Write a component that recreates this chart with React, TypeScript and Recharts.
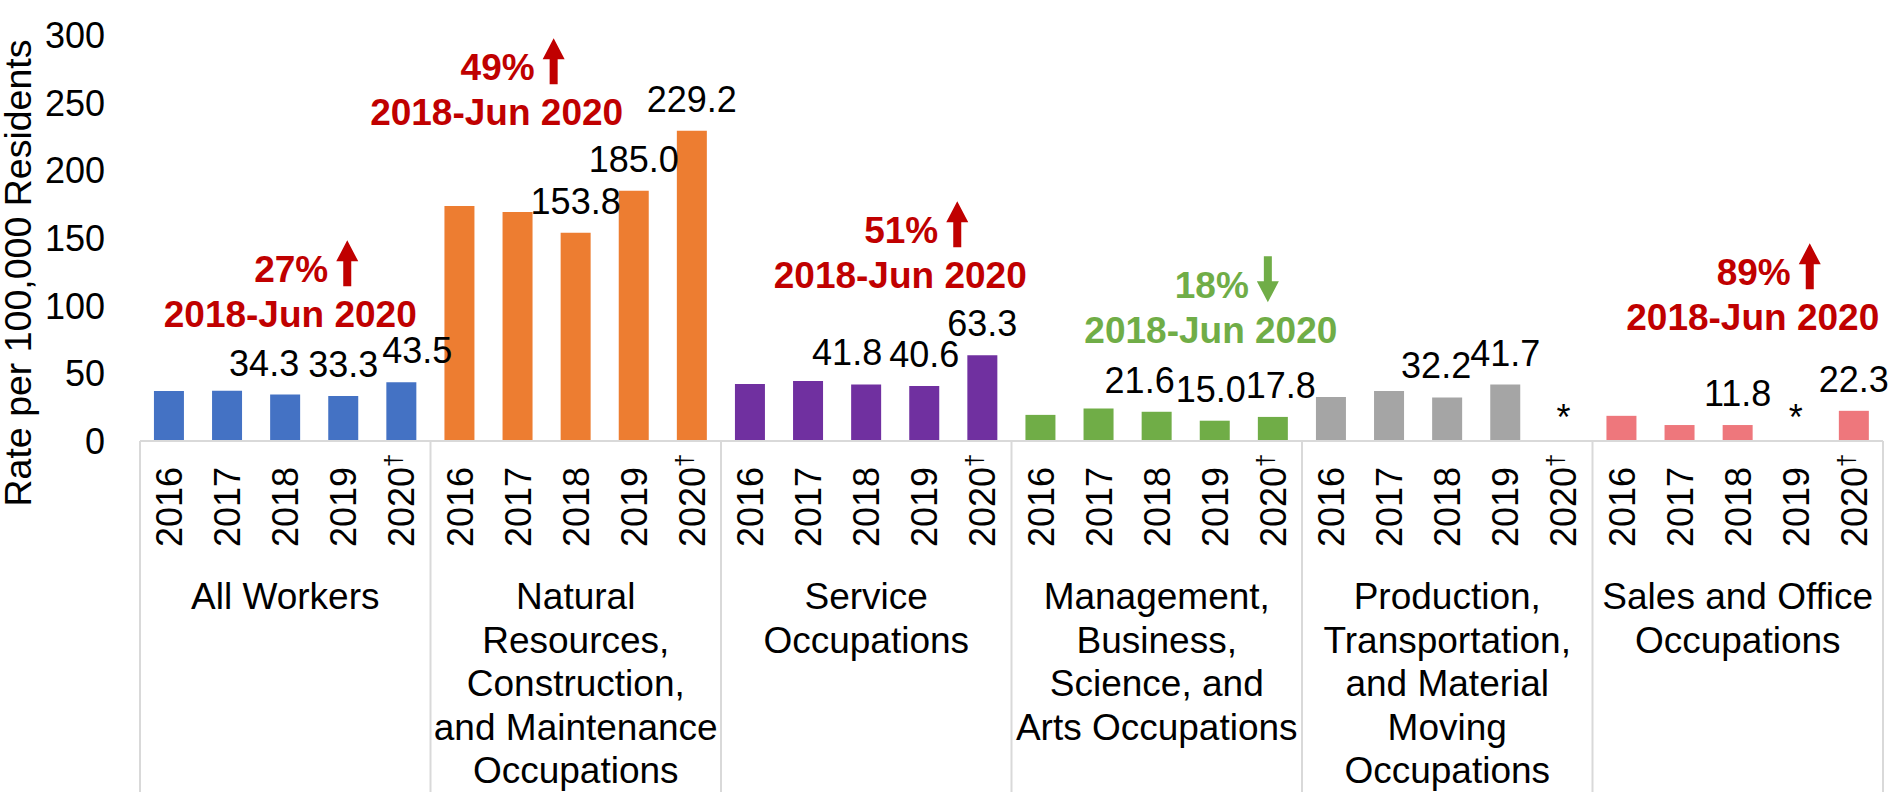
import React from "react"
import { Bar, BarChart, Cell, LabelList, ReferenceDot, XAxis, YAxis } from "recharts"

const years = ["2016", "2017", "2018", "2019", "2020"]
const labelledYears = ["2018", "2019", "2020"]

const groupNames = ["All Workers", "Natural Resources", "Service", "Management", "Production", "Sales and Office"]
const groupLabelLines = [
  ["All Workers"],
  ["Natural", "Resources,", "Construction,", "and Maintenance", "Occupations"],
  ["Service", "Occupations"],
  ["Management,", "Business,", "Science, and", "Arts Occupations"],
  ["Production,", "Transportation,", "and Material", "Moving", "Occupations"],
  ["Sales and Office", "Occupations"],
]

// rate per 100,000 residents, 2016..2020 (null = suppressed, shown as *)
const allWorkers = [37.0, 37.1, 34.3, 33.3, 43.5]
const naturalResources = [173.7, 169.3, 153.8, 185.0, 229.2]
const serviceOcc = [42.2, 44.4, 41.8, 40.6, 63.3]
const management = [19.3, 24.0, 21.6, 15.0, 17.8]
const production = [32.6, 37.0, 32.2, 41.7, null]
const salesOffice = [18.6, 11.8, 11.8, null, 22.3]

const groupValues = [allWorkers, naturalResources, serviceOcc, management, production, salesOffice]
const groupColors = ["#4472C4", "#ED7D31", "#7030A0", "#70AD47", "#A5A5A5", "#EE777C"]

const yTicks = [0, 50, 100, 150, 200, 250, 300]

const annotations = [
  { group: 0, pct: "27%", dir: "up", color: "#C00000" },
  { group: 1, pct: "49%", dir: "up", color: "#C00000" },
  { group: 2, pct: "51%", dir: "up", color: "#C00000" },
  { group: 3, pct: "18%", dir: "down", color: "#70AD47" },
  { group: 5, pct: "89%", dir: "up", color: "#C00000" },
]
const annotationPeriod = "2018-Jun 2020"

// where each annotation sits: anchor year, value of the lower line's baseline, pixel nudge
const annotationAnchors = [
  { year: "2018", y: 84.0, dx: 5 },
  { year: "2017", y: 233.3, dx: -21 },
  { year: "2018", y: 112.8, dx: 34 },
  { year: "2019", y: 72.2, dx: -4 },
  { year: "2018", y: 81.8, dx: 15 },
]

// sideways nudges (px) of value labels that were moved apart to avoid overlap
const labelNudge: Record<string, number> = {
  "All Workers|2018": -21,
  "All Workers|2020": 16,
  "Service|2018": -19,
  "Management|2018": -17,
  "Management|2019": -4,
  "Management|2020": 8,
  "Production|2018": -11,
}

const W = 1893
const H = 792
const Y_AXIS_W = 140
const X_AXIS_H = 351
const MARGIN = { top: 35, right: 10, left: 0, bottom: 0 }
const PLOT_LEFT = MARGIN.left + Y_AXIS_W
const PLOT_RIGHT = W - MARGIN.right
const PLOT_BOTTOM = H - X_AXIS_H
const BAND = (PLOT_RIGHT - PLOT_LEFT) / (groupNames.length * years.length)
const FONT = "'Liberation Sans', Arial, Helvetica, sans-serif"
const GRID = "#D9D9D9"

const keyOf = (g: number, year: string) => `${groupNames[g]}|${year}`

const data = groupValues.flatMap((vals, g) =>
  years.map((year, i) => ({
    key: keyOf(g, year),
    group: g,
    yearIdx: i,
    year,
    value: vals[i],
    label: labelledYears.includes(year) && vals[i] != null ? (vals[i] as number).toFixed(1) : "",
  }))
)
const byKey: Record<string, (typeof data)[number]> = {}
data.forEach((d) => (byKey[d.key] = d))
const missing = data.filter((d) => d.value == null)

function YTick({ x, y, payload }: any) {
  return (
    <text x={x - 27} y={y + 13} textAnchor="end" fontFamily={FONT} fontSize={36} fill="#000">
      {payload.value}
    </text>
  )
}

function XTick({ x, payload }: any) {
  const d = byKey[payload.value]
  if (!d) return null
  const baseY = 547
  const lines = groupLabelLines[d.group]
  const isLast = d.group === groupNames.length - 1 && d.yearIdx === years.length - 1
  return (
    <g>
      {d.yearIdx === 0 && (
        <line x1={x - BAND / 2} x2={x - BAND / 2} y1={PLOT_BOTTOM} y2={H} stroke={GRID} strokeWidth={2} />
      )}
      {isLast && <line x1={x + BAND / 2} x2={x + BAND / 2} y1={PLOT_BOTTOM} y2={H} stroke={GRID} strokeWidth={2} />}
      <text
        x={x + 13}
        y={baseY}
        transform={`rotate(-90, ${x + 13}, ${baseY})`}
        fontFamily={FONT}
        fontSize={36}
        fill="#000"
      >
        {d.year}
        {d.year === "2020" && (
          <tspan dy={-13} fontSize={24}>
            †
          </tspan>
        )}
      </text>
      {d.yearIdx === 2 &&
        lines.map((ln, i) => (
          <text key={i} x={x} y={609 + i * 43.5} textAnchor="middle" fontFamily={FONT} fontSize={37} fill="#000">
            {ln}
          </text>
        ))}
    </g>
  )
}

function ValueLabel({ x, y, width, value }: any) {
  const d = byKey[value]
  if (!d || !d.label) return null
  const dx = labelNudge[d.key] || 0
  return (
    <text x={x + width / 2 + dx} y={y - 19} textAnchor="middle" fontFamily={FONT} fontSize={36} fill="#000">
      {d.label}
    </text>
  )
}

function Arrow({ x, base, dir, color }: { x: number; base: number; dir: string; color: string }) {
  const top = base - 42
  const bottom = base + 4
  const hw = 11
  const sw = 4
  const head = 21
  const pts =
    dir === "up"
      ? [
          [x, top],
          [x + hw, top + head],
          [x + sw, top + head],
          [x + sw, bottom],
          [x - sw, bottom],
          [x - sw, top + head],
          [x - hw, top + head],
        ]
      : [
          [x, bottom],
          [x + hw, bottom - head],
          [x + sw, bottom - head],
          [x + sw, top],
          [x - sw, top],
          [x - sw, bottom - head],
          [x - hw, bottom - head],
        ]
  return <polygon points={pts.map((p) => p.join(",")).join(" ")} fill={color} />
}

function Annotation({ cx, cy, dx, pct, dir, color }: any) {
  const cxx = cx + dx
  const line1 = cy - 45
  return (
    <g>
      <text x={cxx + 38} y={line1} textAnchor="end" fontFamily={FONT} fontWeight="bold" fontSize={37} fill={color}>
        {pct}
      </text>
      <Arrow x={cxx + 57} base={line1} dir={dir} color={color} />
      <text x={cxx} y={cy} textAnchor="middle" fontFamily={FONT} fontWeight="bold" fontSize={37} fill={color}>
        {annotationPeriod}
      </text>
    </g>
  )
}

function YTitle() {
  const cx = 31
  const cy = 273
  return (
    <text
      x={cx}
      y={cy}
      transform={`rotate(-90, ${cx}, ${cy})`}
      textAnchor="middle"
      fontFamily={FONT}
      fontSize={37.5}
      fill="#000"
    >
      Rate per 100,000 Residents
    </text>
  )
}

export default function App() {
  return (
    <div style={{ position: "absolute", left: 0, top: 0, width: W, height: H, background: "#fff" }}>
      <BarChart width={W} height={H} data={data} margin={MARGIN} barCategoryGap="24%">
        <XAxis
          dataKey="key"
          type="category"
          interval={0}
          height={X_AXIS_H}
          tickLine={false}
          axisLine={{ stroke: GRID, strokeWidth: 2 }}
          tick={<XTick />}
        />
        <YAxis
          type="number"
          domain={[0, 300]}
          ticks={yTicks}
          width={Y_AXIS_W}
          axisLine={false}
          tickLine={false}
          tick={<YTick />}
          label={<YTitle />}
        />
        <Bar dataKey="value" isAnimationActive={false}>
          {data.map((d) => (
            <Cell key={d.key} fill={groupColors[d.group]} />
          ))}
          <LabelList dataKey="key" content={<ValueLabel />} />
        </Bar>
        {missing.map((d) => (
          <ReferenceDot
            key={d.key}
            x={d.key}
            y={0}
            r={1}
            ifOverflow="visible"
            shape={(p: any) => (
              <text x={p.cx} y={p.cy - 11} textAnchor="middle" fontFamily={FONT} fontSize={36} fill="#000">
                *
              </text>
            )}
          />
        ))}
        {annotations.map((a, i) => (
          <ReferenceDot
            key={`ann-${i}`}
            x={keyOf(a.group, annotationAnchors[i].year)}
            y={annotationAnchors[i].y}
            r={1}
            ifOverflow="visible"
            shape={(p: any) => (
              <Annotation cx={p.cx} cy={p.cy} dx={annotationAnchors[i].dx} pct={a.pct} dir={a.dir} color={a.color} />
            )}
          />
        ))}
      </BarChart>
    </div>
  )
}
